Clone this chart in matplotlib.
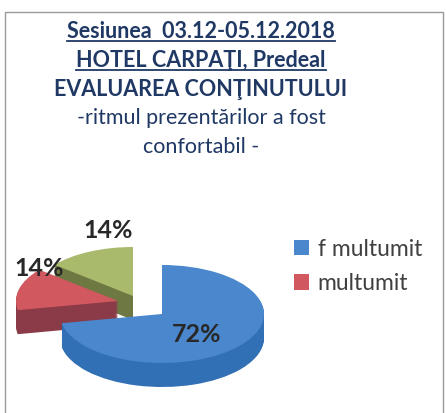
import matplotlib
matplotlib.use("Agg")
import matplotlib.pyplot as plt
from matplotlib.patches import Rectangle
from matplotlib.lines import Line2D

# ---- data ----
title_lines = ["Sesiunea  03.12-05.12.2018", "HOTEL CARPAŢI, Predeal",
               "EVALUAREA CONŢINUTULUI", "-ritmul prezentărilor a fost",
               "confortabil -"]
categories = ["f multumit", "multumit", "nemultumit"]
values = [72, 14, 14]
legend_labels = ["f multumit", "multumit"]

# ---- style ----
plt.rcParams["font.family"] = ["Lato", "DejaVu Sans"]
W, H = 446, 413
top_colors = ["#4a87cc", "#d2585f", "#a9ba6c"]
side_colors = ["#3270b6", "#8a3b47", "#6e7842"]
slice_offset_px = [(0, 0), (-44, -13), (-29, -18)]  # exploded slices (px)
title_color = "#1f3864"

fig = plt.figure(figsize=(W / 100, H / 100), dpi=100)
fig.patch.set_facecolor("white")

def fx(x):
    return x / W

def fy(y):
    return 1 - y / H

# pie axes: whole figure, data units scaled to an ellipse
cx, cy, rx, ry, depth_px = 162, 314, 102, 49, 24
ax = fig.add_axes([0, 0, 1, 1])
d = depth_px / ry
N = 30

def draw_layer(colors, dz):
    wedges, _ = ax.pie(values, startangle=90, counterclock=False,
                       colors=colors, wedgeprops=dict(linewidth=0))
    for w, (ox, oy) in zip(wedges, slice_offset_px):
        w.set_center((ox / rx, -oy / ry - dz))
    return wedges

for k in range(N, 0, -1):
    draw_layer(side_colors, d * k / N)
wedges = draw_layer(top_colors, 0)
ax.set_aspect("auto")
ax.set_xlim(-cx / rx, (W - cx) / rx)
ax.set_ylim(-(H - cy) / ry, cy / ry)
ax.axis("off")

# percentage labels
label_pos = [(197, 334), (39, 269), (108, 231)]
for v, (x, y) in zip(values, label_pos):
    fig.text(fx(x), fy(y), f"{v}%", ha="center", va="center",
             fontsize=18, fontweight="bold", color="#282828")

# legend
handles = [Rectangle((0, 0), 1, 1, facecolor=top_colors[i], edgecolor="none")
           for i in range(len(legend_labels))]
fig.legend(handles, legend_labels, loc="upper left",
           bbox_to_anchor=(fx(273), fy(218)), frameon=False,
           fontsize=16.5, handlelength=0.65, handleheight=0.65,
           handletextpad=0.4, labelspacing=0.58, labelcolor="#404040")

# title
title_y = [38, 67, 96, 124, 153]
title_bold = [True, True, True, False, False]
title_under = [True, True, False, False, False]
title_size = [15.5, 15.5, 15.5, 15.5, 15.5]
texts = []
for s, y, b, sz in zip(title_lines, title_y, title_bold, title_size):
    t = fig.text(fx(201), fy(y), s, ha="center", va="baseline",
                 fontsize=sz, fontweight="bold" if b else "normal",
                 color=title_color)
    texts.append(t)

fig.canvas.draw()
r = fig.canvas.get_renderer()
for t, y, u in zip(texts, title_y, title_under):
    if u:
        bb = t.get_window_extent(r)
        fig.add_artist(Line2D([bb.x0 / W, bb.x1 / W], [fy(y + 3), fy(y + 3)],
                              transform=fig.transFigure, color=title_color,
                              linewidth=1.3))

# frame
fig.add_artist(Rectangle((fx(5), fy(416)), fx(443) - fx(5), fy(12) - fy(416),
                         transform=fig.transFigure, fill=False,
                         edgecolor="#9a9a9a", linewidth=1))

fig.savefig("out.png", dpi=100)
